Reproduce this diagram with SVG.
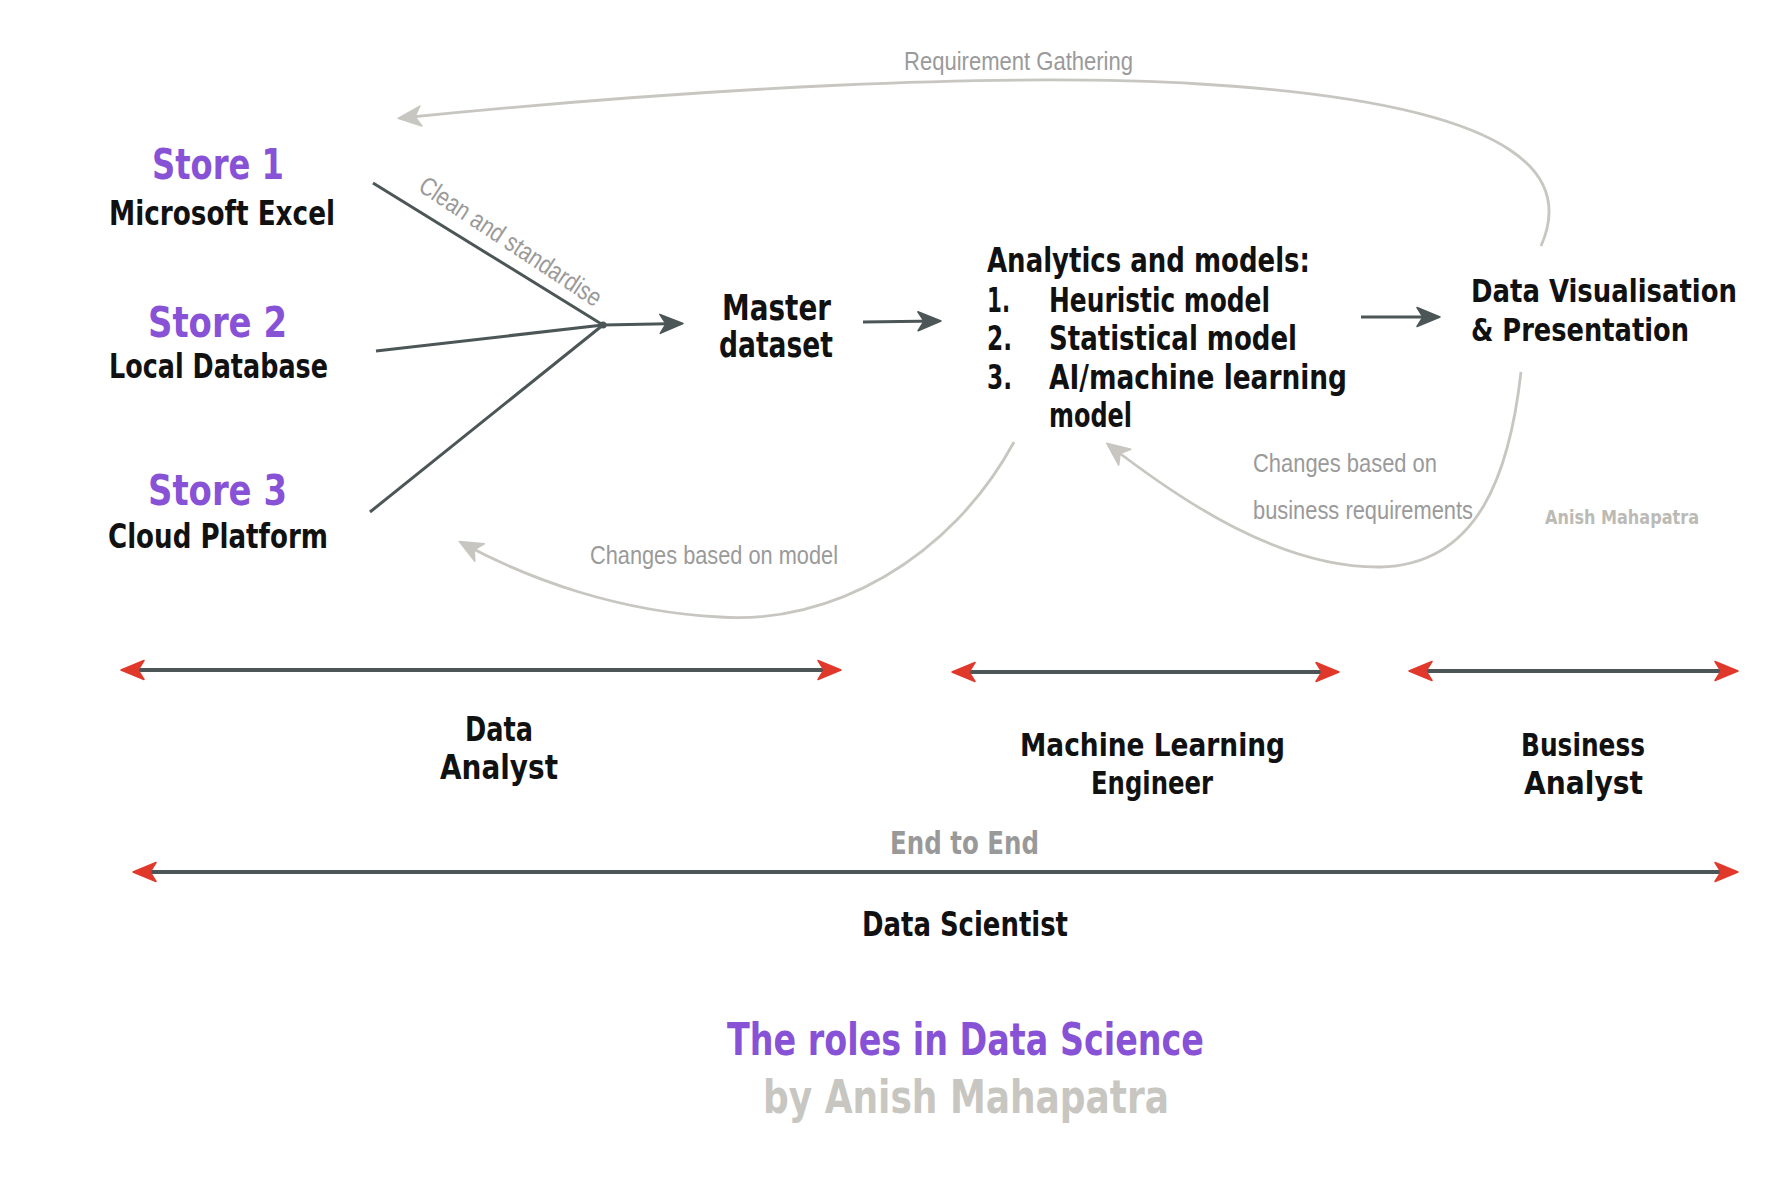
<svg xmlns="http://www.w3.org/2000/svg" width="1767" height="1182" viewBox="0 0 1767 1182">
<style>
.t{font-family:"Liberation Sans Narrow","DejaVu Sans Condensed","Liberation Sans",sans-serif;font-weight:bold;fill:#111}
.p{fill:#8752d6}
.g{font-family:"Liberation Sans Narrow","Liberation Sans",sans-serif;font-weight:normal;fill:#9a9a9a}
.dark{stroke:#4c5656;stroke-width:3;fill:none}
.role{stroke:#4c5656;stroke-width:4;fill:none}
.light{stroke:#c8c6c0;stroke-width:2.8;fill:none}
</style>
<defs>
<marker id="ad" viewBox="-22 -11 26 22" refX="0" refY="0" markerWidth="26" markerHeight="22" markerUnits="userSpaceOnUse" orient="auto">
<path d="M3,0 L-20,-9.5 L-14,0 L-20,9.5 Z" fill="#4c5656" stroke="#4c5656" stroke-width="1.5" stroke-linejoin="round"/>
</marker>
<marker id="al" viewBox="-22 -11 26 22" refX="0" refY="0" markerWidth="26" markerHeight="22" markerUnits="userSpaceOnUse" orient="auto">
<path d="M3,0 L-20,-10 L-14,0 L-20,10 Z" fill="#c8c6c0" stroke="#c8c6c0" stroke-width="1.5" stroke-linejoin="round"/>
</marker>
<marker id="ar" viewBox="-22 -11 26 22" refX="0" refY="0" markerWidth="26" markerHeight="22" markerUnits="userSpaceOnUse" orient="auto-start-reverse">
<path d="M3,0 L-20,-9.5 L-14,0 L-20,9.5 Z" fill="#e0392b" stroke="#e0392b" stroke-width="1.5" stroke-linejoin="round"/>
</marker>
</defs>
<rect width="1767" height="1182" fill="#ffffff"/>

<g id="connectors">
<line class="dark" x1="373" y1="183" x2="603" y2="325"/>
<line class="dark" x1="376" y1="351" x2="603" y2="325"/>
<line class="dark" x1="370" y1="512" x2="603" y2="325"/>
<circle cx="603" cy="325" r="3.5" fill="#4c5656"/>
<line class="dark" x1="603" y1="325" x2="680" y2="323.5" marker-end="url(#ad)"/>
<line class="dark" x1="863" y1="322" x2="938" y2="321" marker-end="url(#ad)"/>
<line class="dark" x1="1361" y1="317" x2="1437" y2="317" marker-end="url(#ad)"/>
<path class="light" d="M1541,246 C1568,185 1545,105 1200,84 C1000,72 700,88 401,118" marker-end="url(#al)"/>
<path class="light" d="M1014,442 C950,560 830,625 720,617 C620,612 530,580 462,543" marker-end="url(#al)"/>
<path class="light" d="M1521,372 C1510,470 1480,565 1380,567 C1280,568 1180,500 1109,445" marker-end="url(#al)"/>
<line class="role" x1="124" y1="670" x2="838" y2="670" marker-start="url(#ar)" marker-end="url(#ar)"/>
<line class="role" x1="955" y1="672" x2="1336" y2="672" marker-start="url(#ar)" marker-end="url(#ar)"/>
<line class="role" x1="1412" y1="671" x2="1735" y2="671" marker-start="url(#ar)" marker-end="url(#ar)"/>
<line class="role" x1="136" y1="872" x2="1735" y2="872" marker-start="url(#ar)" marker-end="url(#ar)"/>
<text class="g" x="904" y="70" font-size="26" textLength="229" lengthAdjust="spacingAndGlyphs">Requirement Gathering</text>
<text class="g" x="417" y="190" font-size="26" textLength="213" lengthAdjust="spacingAndGlyphs" transform="rotate(33.5 417 190)">Clean and standardise</text>
<text class="g" x="590" y="564" font-size="26" textLength="248" lengthAdjust="spacingAndGlyphs">Changes based on model</text>
<text class="g" x="1253" y="472" font-size="26" textLength="184" lengthAdjust="spacingAndGlyphs">Changes based on</text>
<text class="g" x="1253" y="519" font-size="26" textLength="220" lengthAdjust="spacingAndGlyphs">business requirements</text>
</g>

<g id="store1">
<text class="t p" x="152" y="179" font-size="42" textLength="132" lengthAdjust="spacingAndGlyphs">Store 1</text>
<text class="t" x="109" y="225" font-size="34" textLength="226" lengthAdjust="spacingAndGlyphs">Microsoft Excel</text>
</g>
<g id="store2">
<text class="t p" x="148" y="337" font-size="42" textLength="139" lengthAdjust="spacingAndGlyphs">Store 2</text>
<text class="t" x="109" y="378" font-size="34" textLength="219" lengthAdjust="spacingAndGlyphs">Local Database</text>
</g>
<g id="store3">
<text class="t p" x="148" y="505" font-size="42" textLength="139" lengthAdjust="spacingAndGlyphs">Store 3</text>
<text class="t" x="108" y="548" font-size="34" textLength="220" lengthAdjust="spacingAndGlyphs">Cloud Platform</text>
</g>
<g id="master">
<text class="t" x="722" y="320" font-size="36" textLength="109" lengthAdjust="spacingAndGlyphs">Master</text>
<text class="t" x="719" y="357" font-size="36" textLength="114" lengthAdjust="spacingAndGlyphs">dataset</text>
</g>
<g id="analytics">
<text class="t" x="987" y="272" font-size="34" textLength="323" lengthAdjust="spacingAndGlyphs">Analytics and models:</text>
<text class="t" x="987" y="312" font-size="34" textLength="23" lengthAdjust="spacingAndGlyphs">1.</text>
<text class="t" x="1049" y="312" font-size="34" textLength="221" lengthAdjust="spacingAndGlyphs">Heuristic model</text>
<text class="t" x="987" y="350" font-size="34" textLength="25" lengthAdjust="spacingAndGlyphs">2.</text>
<text class="t" x="1049" y="350" font-size="34" textLength="248" lengthAdjust="spacingAndGlyphs">Statistical model</text>
<text class="t" x="987" y="389" font-size="34" textLength="25" lengthAdjust="spacingAndGlyphs">3.</text>
<text class="t" x="1049" y="389" font-size="34" textLength="298" lengthAdjust="spacingAndGlyphs">AI/machine learning</text>
<text class="t" x="1049" y="427" font-size="34" textLength="83" lengthAdjust="spacingAndGlyphs">model</text>
</g>
<g id="dataviz">
<text class="t" x="1471" y="302" font-size="32" textLength="266" lengthAdjust="spacingAndGlyphs">Data Visualisation</text>
<text class="t" x="1471" y="341" font-size="32" textLength="218" lengthAdjust="spacingAndGlyphs">&amp; Presentation</text>
</g>
<g id="watermark">
<text class="t" x="1545" y="524" font-size="19" style="fill:#bcbab5" textLength="154" lengthAdjust="spacingAndGlyphs">Anish Mahapatra</text>
</g>
<g id="role-data-analyst">
<text class="t" x="465" y="741" font-size="33" textLength="68" lengthAdjust="spacingAndGlyphs">Data</text>
<text class="t" x="440" y="779" font-size="33" textLength="118" lengthAdjust="spacingAndGlyphs">Analyst</text>
</g>
<g id="role-ml-engineer">
<text class="t" x="1020" y="756" font-size="32" textLength="265" lengthAdjust="spacingAndGlyphs">Machine Learning</text>
<text class="t" x="1091" y="794" font-size="32" textLength="122" lengthAdjust="spacingAndGlyphs">Engineer</text>
</g>
<g id="role-business-analyst">
<text class="t" x="1521" y="756" font-size="32" textLength="124" lengthAdjust="spacingAndGlyphs">Business</text>
<text class="t" x="1524" y="794" font-size="32" textLength="119" lengthAdjust="spacingAndGlyphs">Analyst</text>
</g>
<g id="role-data-scientist">
<text class="t" x="890" y="854" font-size="32" style="fill:#999999" textLength="149" lengthAdjust="spacingAndGlyphs">End to End</text>
<text class="t" x="862" y="936" font-size="34" textLength="206" lengthAdjust="spacingAndGlyphs">Data Scientist</text>
</g>
<g id="title">
<text class="t p" x="727" y="1055" font-size="44" textLength="477" lengthAdjust="spacingAndGlyphs">The roles in Data Science</text>
<text class="t" x="763" y="1113" font-size="46" style="fill:#c8c6c1" textLength="406" lengthAdjust="spacingAndGlyphs">by Anish Mahapatra</text>
</g>
</svg>
